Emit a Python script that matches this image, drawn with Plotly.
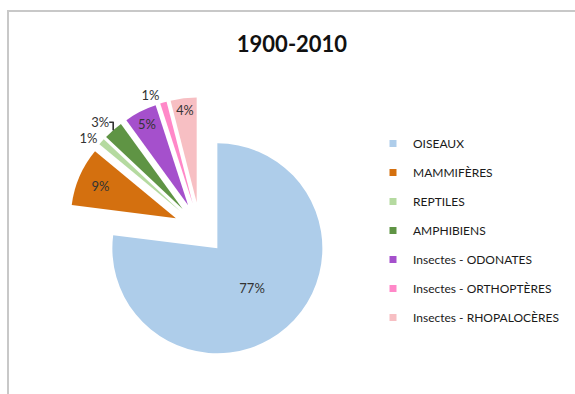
import plotly.graph_objects as go

# Share of each group, 1900-2010 (percent)
categories = ["OISEAUX", "MAMMIFÈRES", "REPTILES", "AMPHIBIENS",
              "Insectes - ODONATES", "Insectes - ORTHOPTÈRES", "Insectes - RHOPALOCÈRES"]
shares = [77, 9, 1, 3, 5, 1, 4]
colors = ["#AECDEA", "#D4700F", "#B5DAA0", "#5F9444", "#A550CC", "#FF88C8", "#F7BFC3"]
label_positions = ["inside", "inside", "outside", "outside", "inside", "outside", "inside"]

W, H = 575, 394
FONT = "Lato, Carlito, Calibri, sans-serif"

fig = go.Figure()

fig.add_trace(go.Pie(
    labels=categories,
    values=shares,
    sort=False,
    direction="clockwise",
    rotation=0,
    pull=[0.25] * len(shares),
    marker=dict(colors=colors, line=dict(width=0)),
    textinfo="percent",
    textposition=label_positions,
    insidetextorientation="horizontal",
    textfont=dict(family=FONT, size=13, color="#333333"),
    domain=dict(x=[68.75 / W, 331.25 / W], y=[1 - 359.85 / H, 1 - 97.35 / H]),
    showlegend=False,
    hoverinfo="label+percent",
))

# Legend entries: one small square per category, one group each so rows can be spaced
for name, col in zip(categories, colors):
    fig.add_trace(go.Scatter(
        x=[None], y=[None], mode="markers", name=name,
        marker=dict(symbol="square", size=7, color=col),
        legendgroup=name, showlegend=True, hoverinfo="skip",
    ))

fig.update_layout(
    width=W, height=H,
    margin=dict(l=0, r=0, t=0, b=0, autoexpand=False),
    paper_bgcolor="white", plot_bgcolor="white",
    xaxis=dict(visible=False), yaxis=dict(visible=False),
    title=dict(text="<b>1900-2010</b>", x=292 / W, xanchor="center",
               y=1 - 44 / H, yanchor="middle", yref="container",
               font=dict(family=FONT, size=22, color="#111111")),
    legend=dict(x=373 / W, xanchor="left", y=1 - 129 / H, yanchor="top",
                traceorder="grouped", tracegroupgap=10,
                font=dict(family=FONT, size=12, color="#1a1a1a"),
                bgcolor="rgba(0,0,0,0)"),
    shapes=[dict(type="path", xref="paper", yref="paper",
                 path=f"M {8 / W},-0.05 L {8 / W},{1 - 11 / H} L 1.05,{1 - 11 / H}",
                 line=dict(color="#C8C8C8", width=2))],
)

fig.write_html("out.html")
